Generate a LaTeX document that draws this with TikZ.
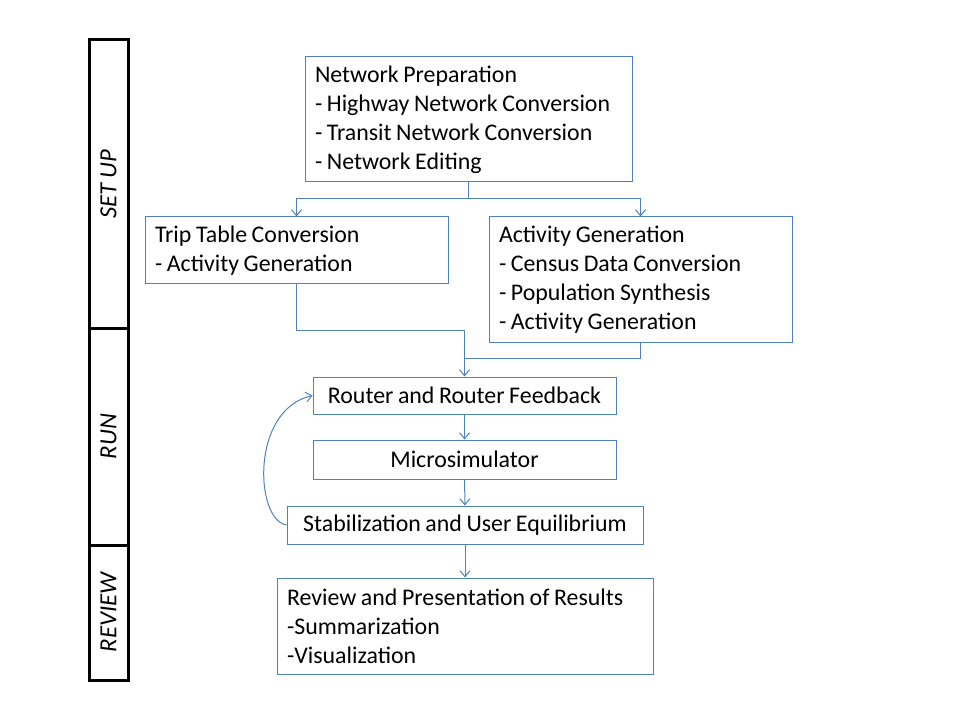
\documentclass[tikz,border=0pt]{standalone}
\usepackage{fontspec}
\setmainfont[WordSpace=0.85]{Carlito}
\usetikzlibrary{arrows.meta,positioning,calc}
\definecolor{accent}{RGB}{79,129,189}
\tikzset{
  ebox/.style={draw=accent,line width=0.75pt,inner xsep=7.5pt,inner ysep=0pt,fill=white,font=\fontsize{17.9}{21.75}\selectfont},
  liste/.style={ebox,align=flush left},
  onee/.style={ebox,align=center},
  phase/.style={draw=black,line width=2.25pt,minimum width=29.25pt,inner sep=0pt,font=\fontsize{18.5}{21.75}\selectfont\itshape},
  link/.style={draw=accent,line width=0.75pt},
  flow/.style={link,-{Straight Barb[length=4.5pt,width=7.5pt]}}
}

\begin{document}
\begin{tikzpicture}[x=0.75pt,y=-0.75pt]
  \useasboundingbox (0,0) rectangle (960,720);
  % phases
  \node[phase,minimum height=216pt] (setup) at (108.5,184) {\rotatebox{90}{SET UP}};
  \node[phase,minimum height=162.75pt] (run) at (108.5,436.5) {\rotatebox{90}{RUN}};
  \node[phase,minimum height=101.25pt] (review) at (108.5,612.5) {\rotatebox{90}{REVIEW}};
  % steps
  \node[liste,text width=230.25pt,minimum height=93.75pt] (netprep) at (468.5,119.5)
    {Network Preparation\\- Highway Network Conversion\\- Transit Network Conversion\\- Network Editing};
  \node[liste,text width=212.25pt,minimum height=50.25pt] (trip) at (296.5,250.5)
    {Trip Table Conversion\\- Activity Generation};
  \node[liste,text width=212.25pt,minimum height=93.75pt] (actgen) at (640.5,279.5)
    {Activity Generation\\- Census Data Conversion\\- Population Synthesis\\- Activity Generation};
  \node[onee,minimum width=227.25pt,minimum height=27.75pt] (router) at (464.5,395.5) {Router and Router Feedback};
  \node[onee,minimum width=227.25pt,minimum height=29.25pt] (micro) at (464.5,459.5) {Microsimulator};
  \node[onee,minimum width=267pt,minimum height=28.5pt] (stab) at (465,525) {Stabilization and User Equilibrium};
  \node[liste,text width=267pt,minimum height=72pt] (results) at (465,626)
    {Review and Presentation of Results\\-Summarization\\-Visualization};
  % connectors
  \coordinate (split) at (468.5,199);
  \coordinate (merge) at (464.5,330);
  \coordinate (merge2) at (464.5,358);
  \draw[link] (netprep) -- (split);
  \draw[flow] (split) -| (trip);
  \draw[flow] (split) -| (actgen);
  \draw[link] (trip) |- (merge);
  \draw[link] (actgen) |- (merge2);
  \draw[flow] (merge) -- (router);
  \draw[flow] (router) -- (micro);
  \draw[flow] (micro) -- (stab);
  \draw[flow] (stab) -- (results);
  \draw[flow] (stab.west) .. controls (255,520) and (250,410) .. (router.west);
\end{tikzpicture}
\end{document}
